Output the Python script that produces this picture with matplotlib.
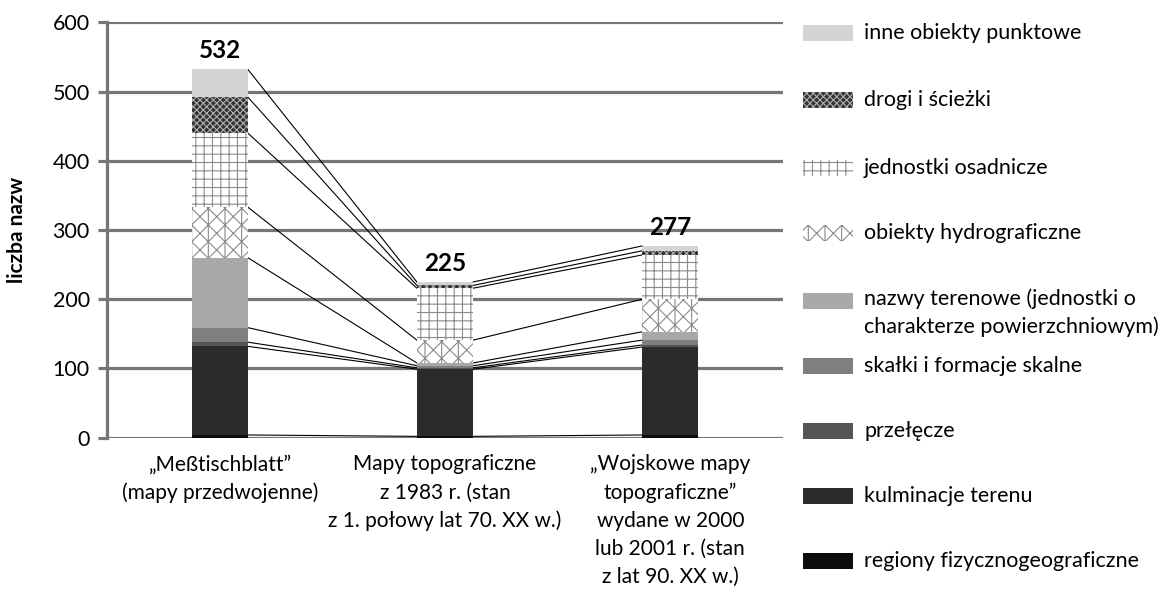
import numpy as np
import matplotlib
matplotlib.use("Agg")
from matplotlib import pyplot as plt
from matplotlib.patches import Rectangle

plt.rcParams['font.family'] = ['Lato', 'DejaVu Sans']
plt.rcParams['hatch.linewidth'] = 0.8

# categories (maps)
categories = ['„Meßtischblatt”\n(mapy przedwojenne)',
              'Mapy topograficzne\nz 1983 r. (stan\nz 1. połowy lat 70. XX w.)',
              '„Wojskowe mapy\ntopograficzne”\nwydane w 2000\nlub 2001 r. (stan\nz lat 90. XX w.)']

# series, bottom to top
series_names = ['regiony fizycznogeograficzne', 'kulminacje terenu', 'przełęcze',
                'skałki i formacje skalne',
                'nazwy terenowe (jednostki o\ncharakterze powierzchniowym)',
                'obiekty hydrograficzne', 'jednostki osadnicze', 'drogi i ścieżki',
                'inne obiekty punktowe']
regiony = [4, 2, 4]
kulminacje = [128, 97, 127]
przelecze = [6, 2, 3]
skalki = [21, 3, 7]
nazwy_terenowe = [101, 4, 12]
hydrograficzne = [73, 33, 47]
osadnicze = [107, 75, 64]
drogi = [52, 4, 6]
inne = [40, 5, 7]
totals = [532, 225, 277]

series_values = [regiony, kulminacje, przelecze, skalki, nazwy_terenowe,
                 hydrograficzne, osadnicze, drogi, inne]

# look of each series: facecolor, hatch colour, hatch
styles = [('#0c0c0c', '#0c0c0c', None),
          ('#2b2b2b', '#2b2b2b', None),
          ('#555555', '#555555', None),
          ('#7f7f7f', '#7f7f7f', None),
          ('#a8a8a8', '#a8a8a8', None),
          ('white', '#8a8a8a', 'xx|'),
          ('white', '#8a8a8a', '++'),
          ('#333333', '#b0b0b0', 'xxxxx'),
          ('#d4d4d4', '#d4d4d4', None)]

grid_col = '#767676'
fig = plt.figure(figsize=(11.66, 5.98), dpi=100)
ax = fig.add_axes([0.0918, 0.268, 0.5797, 0.6947])

x = np.arange(len(categories))
w = 0.25
bottom = np.zeros(len(categories))
tops = []
for vals, (fc, hc, hatch) in zip(series_values, styles):
    ax.bar(x, vals, w, bottom=bottom, color=fc, edgecolor=hc, hatch=hatch,
           linewidth=0, zorder=3)
    bottom = bottom + np.array(vals)
    tops.append(bottom.copy())

# series lines between bars
for cum in tops:
    for i in range(len(x) - 1):
        ax.plot([x[i] + w / 2, x[i + 1] - w / 2], [cum[i], cum[i + 1]],
                color='black', lw=0.8, zorder=2.5)

for xi, t in zip(x, totals):
    ax.annotate(str(t), (xi, bottom[xi]), xytext=(0, 5), textcoords='offset points',
                ha='center', va='bottom', fontsize=17.5, fontweight='bold')

ax.set_xlim(-0.5, 2.5)
ax.set_ylim(0, 600)
ax.set_yticks(range(0, 601, 100))
ax.yaxis.grid(True, color=grid_col, lw=2.3)
ax.set_axisbelow(True)
for s in ['top', 'right', 'bottom']:
    ax.spines[s].set_visible(False)
ax.spines['left'].set_color(grid_col)
ax.spines['left'].set_linewidth(2.3)
ax.tick_params(axis='y', length=6.5, width=2.3, color=grid_col, labelsize=15.5, pad=6)
ax.set_xticks(x)
ax.set_xticklabels(categories, fontsize=15, linespacing=1.5)
ax.tick_params(axis='x', length=0, pad=12)
ax.set_ylabel('liczba nazw', fontsize=15, fontweight='bold', labelpad=18)

# legend drawn by hand, top to bottom
leg_y = [33, 100, 168, 233, 301, 366, 431, 496, 561]
for (name, (fc, hc, hatch)), yp in zip(list(zip(series_names, styles))[::-1], leg_y):
    fy = 1 - yp / 598
    fig.add_artist(Rectangle((803 / 1166, fy - 8 / 598), 50 / 1166, 16 / 598,
                             transform=fig.transFigure, facecolor=fc, edgecolor=hc,
                             hatch=hatch, linewidth=0))
    if '\n' in name:
        fig.text(864 / 1166, fy + 13 / 598, name, fontsize=15.5, va='top', ha='left',
                 linespacing=1.45)
    else:
        fig.text(864 / 1166, fy, name, fontsize=15.5, va='center', ha='left')

fig.savefig('out.png', dpi=100)
